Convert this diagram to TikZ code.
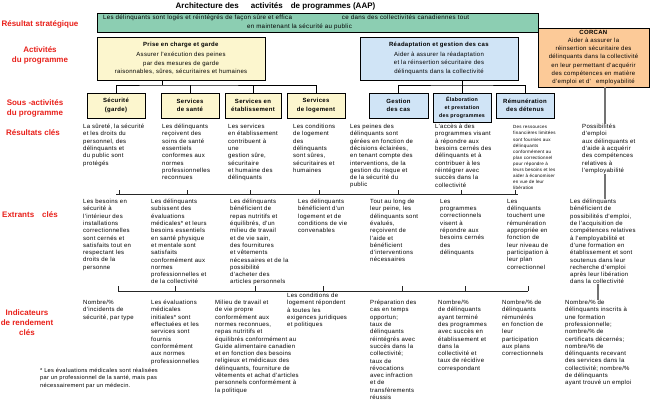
\documentclass[tikz,border=0pt]{standalone}
\usepackage{fontspec}
\setmainfont{Liberation Sans}[LetterSpace=5]
\newfontfamily\labelfont{Liberation Sans}
\usetikzlibrary{positioning, shadows}
\definecolor{stratgreen}{RGB}{140,206,178}
\definecolor{careyellow}{RGB}{252,246,206}
\definecolor{casesblue}{RGB}{208,228,246}
\definecolor{corcanorange}{RGB}{252,202,152}
\definecolor{labelred}{RGB}{232,32,26}

\begin{document}
\begin{tikzpicture}[x=1pt, y=-1pt,
	pbox/.style={draw=black, line width=0.6pt, align=center, inner sep=0pt, drop shadow={shadow xshift=1.3pt, shadow yshift=-1.3pt, fill=black!80, opacity=1}},
	subbox/.style={pbox, font=\bfseries\fontsize{6}{8.5}\selectfont, minimum width=58pt, minimum height=25pt},
	lvl/.style={font=\labelfont\bfseries\fontsize{8}{10}\selectfont, text=labelred, align=center, inner sep=0pt},
	txt/.style={anchor=north west, align=left, inner sep=0pt, font=\fontsize{6}{7.3}\selectfont},
	tree/.style={line width=0.7pt, black},
	bus/.style={line width=0.6pt, black!85},
	corcanline/.style={line width=1.2pt, black!55}]
	\useasboundingbox (0,0) rectangle (650,400);
	% titre et niveaux
	\node[font=\labelfont\bfseries\fontsize{8}{10}\selectfont, inner sep=0pt] (title) at (275.5,6) {Architecture des\hspace{12pt}activités\hspace{8pt}de programmes (AAP)};
	\node[lvl] (lstrat) at (40,24) {Résultat stratégique};
	\node[lvl] (lact) at (40,55) {Activités\\du programme};
	\node[lvl] (lsub) at (35,108) {Sous -activités\\du programme};
	\node[lvl] (lres) at (33,133) {Résultats clés};
	\node[lvl] (lout) at (30,215) {Extrants\hspace{8pt}clés};
	\node[lvl] (lind) at (27,323) {Indicateurs\\de rendement\\clés};
	% boites
	\node[pbox, fill=stratgreen, minimum width=441pt, minimum height=19pt, text width=429pt, align=left, font=\fontsize{6.2}{8.5}\selectfont] (strat) at (317.5,22.5) {Les délinquants sont logés et réintégrés de façon sûre et effica\hspace{50pt}ce dans des collectivités canadiennes tout\\\hspace*{144pt}en maintenant la sécurité au public};
	\node[pbox, fill=careyellow, minimum width=168pt, minimum height=43pt, font=\fontsize{6}{8.6}\selectfont] (care) at (181,58.5) {\textbf{Prise en charge et garde}\\[1pt]Assurer l'exécution des peines\\par des mesures de garde\\raisonnables, sûres, sécuritaires et humaines};
	\node[pbox, fill=casesblue, minimum width=158pt, minimum height=43pt, font=\fontsize{6}{8.6}\selectfont] (cases) at (439,58.5) {\textbf{Réadaptation et gestion des cas}\\[1pt]Aider à assurer la réadaptation\\et la réinsertion sécuritaire des\\délinquants dans la collectivité};
	\node[pbox, fill=corcanorange, minimum width=111pt, minimum height=59pt, font=\fontsize{6}{8.2}\selectfont] (corcan) at (593.5,57.5) {\textbf{CORCAN}\\Aider à assurer la\\réinsertion sécuritaire des\\délinquants dans la collectivité\\en leur permettant d'acquérir\\des compétences en matière\\d'emploi et d'\hspace{5pt}employabilité};
	\node[subbox, fill=careyellow] (secu) at (116,105.5) {Sécurité\\(garde)};
	\node[subbox, fill=careyellow] (sante) at (190,105.5) {Services\\de santé};
	\node[subbox, fill=careyellow, minimum width=56pt] (etab) at (253,105.5) {Services en\\établissement};
	\node[subbox, fill=careyellow] (loge) at (316,105.5) {Services\\de logement};
	\node[subbox, fill=casesblue, minimum width=59pt] (gestion) at (398.5,105.5) {Gestion\\des cas};
	\node[subbox, fill=casesblue, minimum height=29pt, font=\bfseries\fontsize{5.3}{7.8}\selectfont] (elab) at (462,107.5) {Élaboration\\et prestation\\des programmes};
	\node[subbox, fill=casesblue] (remu) at (525,105.5) {Rémunération\\des détenus};
	% arbre
	\coordinate (careknot) at (162,85);
	\coordinate (casesknot) at (462,85);
	\draw[tree] (care.south -| careknot) -- (careknot);
	\draw[tree] (secu.north) |- (careknot) -| (loge.north);
	\draw[tree] (sante.north) -- (sante.north |- careknot);
	\draw[tree] (etab.north) -- (etab.north |- careknot);
	\draw[tree] (elab.north) -- (elab.north |- cases.south);
	\draw[tree] (gestion.north) |- (casesknot) -| (remu.north);
	% resultats cles
	\node[txt] (res1) at (83,124) {La sûreté, la sécurité\\et les droits du\\personnel, des\\délinquants et\\du public sont\\protégés};
	\node[txt] (res2) at (162,124) {Les délinquants\\reçoivent des\\soins de santé\\essentiels\\conformes aux\\normes\\professionnelles\\reconnues};
	\node[txt] (res3) at (228,124) {Les services\\en établissement\\contribuent à\\une\\gestion sûre,\\sécuritaire\\et humaine des\\délinquants};
	\node[txt] (res4) at (293,124) {Les conditions\\de logement\\des\\délinquants\\sont sûres,\\sécuritaires et\\humaines};
	\node[txt] (res5) at (350,124) {Les peines des\\délinquants sont\\gérées en fonction de\\décisions éclairées,\\en tenant compte des\\interventions, de la\\gestion du risque et\\de la sécurité du\\public};
	\node[txt] (res6) at (435,124) {L'accès à des\\programmes visant\\à répondre aux\\besoins cernés des\\délinquants et à\\contribuer à les\\réintégrer avec\\succès dans la\\collectivité};
	\node[txt, font=\fontsize{4.5}{6.1}\selectfont] (res7) at (513,125.5) {Des ressources\\financières limitées\\sont fournies aux\\délinquants\\conformément au\\plan correctionnel\\pour répondre à\\leurs besoins et les\\aider à économiser\\en vue de leur\\libération};
	\node[txt] (res8) at (582,124) {Possibilités\\d'emploi\\aux délinquants et\\d'aide à acquérir\\des compétences\\relatives à\\l'employabilité};
	% extrants cles
	\node[txt] (out1) at (83,199) {Les besoins en\\sécurité à\\l'intérieur des\\installations\\correctionnelles\\sont cernés et\\satisfaits tout en\\respectant les\\droits de la\\personne};
	\node[txt] (out2) at (151,199) {Les délinquants\\subissent des\\évaluations\\médicales* et leurs\\besoins essentiels\\en santé physique\\et mentale sont\\satisfaits\\conformément aux\\normes\\professionnelles et\\de la collectivité};
	\node[txt] (out3) at (230,199) {Les délinquants\\bénéficient de\\repas nutritifs et\\équilibrés, d'un\\milieu de travail\\et de vie sain,\\des fournitures\\et vêtements\\nécessaires et de la\\possibilité\\d'acheter des\\articles personnels};
	\node[txt] (out4) at (298,199) {Les délinquants\\bénéficient d'un\\logement et de\\conditions de vie\\convenables};
	\node[txt] (out5) at (370,199) {Tout au long de\\leur peine, les\\délinquants sont\\évalués,\\reçoivent de\\l'aide et\\bénéficient\\d'interventions\\nécessaires};
	\node[txt] (out6) at (440,199) {Les\\programmes\\correctionnels\\visent à\\répondre aux\\besoins cernés\\des\\délinquants};
	\node[txt] (out7) at (507,199) {Les\\délinquants\\touchent une\\rémunération\\appropriée en\\fonction de\\leur niveau de\\participation à\\leur plan\\correctionnel};
	\node[txt] (out8) at (570,199) {Les délinquants\\bénéficient de\\possibilités d'emploi,\\de l'acquisition de\\compétences relatives\\à l'employabilité et\\d'une formation en\\établissement et sont\\soutenus dans leur\\recherche d'emploi\\après leur libération\\dans la collectivité};
	% indicateurs
	\node[txt] (ind1) at (83,300) {Nombre/\%\\d'incidents de\\sécurité, par type};
	\node[txt] (ind2) at (151,300) {Les évaluations\\médicales\\initiales* sont\\effectuées et les\\services sont\\fournis\\conformément\\aux normes\\professionnelles};
	\node[txt] (ind3) at (215,300) {Milieu de travail et\\de vie propre\\conformément aux\\normes reconnues,\\repas nutritifs et\\équilibrés conformément au\\Guide alimentaire canadien\\et en fonction des besoins\\religieux et médicaux des\\délinquants, fourniture de\\vêtements et achat d'articles\\personnels conformément à\\la politique};
	\node[txt] (ind4) at (287,293) {Les conditions de\\logement répondent\\à toutes les\\exigences juridiques\\et politiques};
	\node[txt] (ind5) at (370,300) {Préparation des\\cas en temps\\opportun;\\taux de\\délinquants\\réintégrés avec\\succès dans la\\collectivité;\\taux de\\révocations\\avec infraction\\et de\\transfèrements\\réussis};
	\node[txt] (ind6) at (438,300) {Nombre/\%\\de délinquants\\ayant terminé\\des programmes\\avec succès en\\établissement et\\dans la\\collectivité et\\taux de récidive\\correspondant};
	\node[txt] (ind7) at (502,300) {Nombre/\% de\\délinquants\\rémunérés\\en fonction de\\leur\\participation\\aux plans\\correctionnels};
	\node[txt] (ind8) at (565,300) {Nombre/\% de\\délinquants inscrits à\\une formation\\professionnelle;\\nombre/\% de\\certificats décernés;\\nombre/\% de\\délinquants recevant\\des services dans la\\collectivité; nombre/\%\\de délinquants\\ayant trouvé un emploi};
	\node[txt, font=\fontsize{5.7}{7.4}\selectfont] (note) at (40,368) {* Les évaluations médicales sont réalisées\\par un professionnel de la santé, mais pas\\nécessairement par un médecin.};
	% liaisons
	\coordinate (resbusw) at (116,194); \coordinate (resbuse) at (518,194);
	\draw[bus] (resbusw) -- (resbuse);
	\foreach \x in {119,187,250,319,398,461,515} \draw[bus] (\x,194) -- ++(0,-4);
	\coordinate (outbusw) at (118,291); \coordinate (outbuse) at (528,291);
	\draw[bus] (outbusw) -- (outbuse);
	\foreach \x in {118,175,255,323,402,465,528} \draw[bus] (\x,291) -- ++(0,-5);
	\coordinate (corcanx) at (605,0); \coordinate (corcanlow) at (598,0);
	\draw[corcanline] (corcan.south -| corcanx) -- (res8.north -| corcanx);
	\draw[corcanline] (res8.south -| corcanx) -- (out8.north -| corcanx);
	\draw[corcanline] (out8.south -| corcanlow) -- (ind8.north -| corcanlow);
\end{tikzpicture}
\end{document}
